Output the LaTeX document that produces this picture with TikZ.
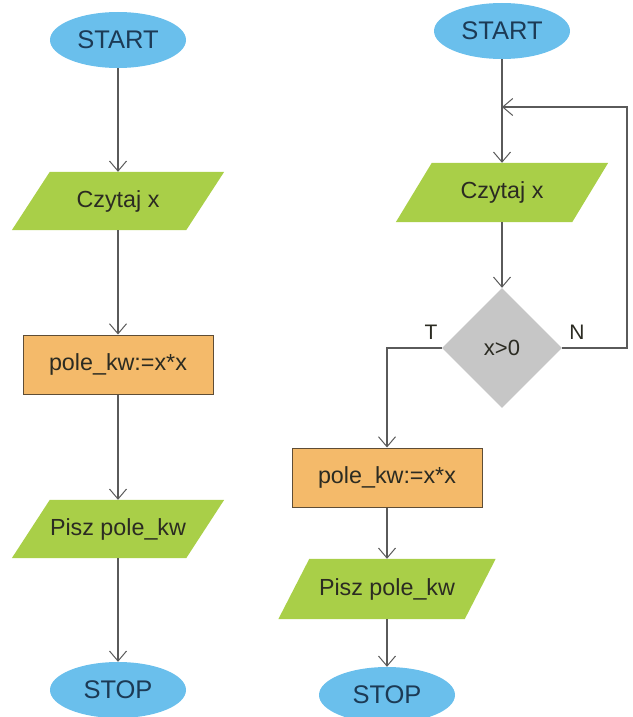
\documentclass[tikz,border=0pt]{standalone}
\usepackage{fontspec}
\setmainfont{Liberation Sans}
\usetikzlibrary{arrows.meta,shapes.geometric}
\pgfdeclarelayer{background}
\pgfsetlayers{background,main}

\definecolor{termblue}{HTML}{6ABFEC}
\definecolor{termtext}{HTML}{1C3A55}
\definecolor{iogreen}{HTML}{A9CF48}
\definecolor{procorange}{HTML}{F4BA6A}
\definecolor{procedge}{HTML}{5E4D36}
\definecolor{decgray}{HTML}{C6C6C6}
\definecolor{linegray}{HTML}{5A5A5A}
\definecolor{txtdark}{HTML}{2B2B22}

\tikzset{
  terminal/.style={ellipse, fill=termblue, inner sep=0pt, minimum width=136pt,
    minimum height=56pt, text=termtext, font=\fontsize{25.5}{30}\selectfont},
  iobox/.style={rectangle, inner sep=0pt, minimum height=58pt,
    text=txtdark, font=\fontsize{23.3}{27}\selectfont},
  procbox/.style={rectangle, fill=procorange, draw=procedge, line width=1pt,
    inner sep=0pt, minimum width=190pt, minimum height=59pt,
    text=txtdark, font=\fontsize{23.3}{27}\selectfont},
  decision/.style={diamond, fill=decgray, inner sep=0pt, minimum width=120pt,
    minimum height=120pt, text=txtdark, font=\fontsize{22}{26}\selectfont},
  branchlabel/.style={text=txtdark, font=\fontsize{21}{25}\selectfont},
  flow/.style={draw=linegray, line width=1.1pt,
    -{Straight Barb[length=10pt,width=17pt,line width=1pt]}},
}

% fills a right-leaning parallelogram behind an io node
\newcommand{\pgramfill}[2]{%
  \begin{pgfonlayer}{background}
    \fill[iogreen] ([xshift=#2/2]#1.north west) -- ([xshift=#2/2]#1.north east)
      -- ([xshift=-#2/2]#1.south east) -- ([xshift=-#2/2]#1.south west) -- cycle;
  \end{pgfonlayer}}

\begin{document}
\begin{tikzpicture}[x=1pt, y=-1pt]
  \useasboundingbox (0,0) rectangle (632,717);

  % ---- linear algorithm ----
  \node[terminal] (s1) at (118,40) {START};
  \node[iobox, minimum width=174pt] (c1) at (118,201) {Czytaj x};
  \pgramfill{c1}{38pt}
  \node[procbox] (p1) at (118,364.5) {pole\_kw:=x*x};
  \node[iobox, minimum width=174pt] (w1) at (118,529) {Pisz pole\_kw};
  \pgramfill{w1}{38pt}
  \node[terminal] (e1) at (118,690) {STOP};

  \draw[flow] (s1) -- (c1);
  \draw[flow] (c1) -- (p1);
  \draw[flow] (p1) -- (w1);
  \draw[flow] (w1) -- (e1);

  % ---- algorithm with a loop ----
  \node[terminal] (s2) at (502,31) {START};
  \node[iobox, minimum width=176pt, minimum height=59pt] (c2) at (502,192.5) {Czytaj x};
  \pgramfill{c2}{36pt}
  \node[decision] (d) at (502,348) {x>0};
  \node[procbox] (p2) at (387,477.5) {pole\_kw:=x*x};
  \node[iobox, minimum width=186pt, minimum height=60pt] (w2) at (387,589) {Pisz pole\_kw};
  \pgramfill{w2}{31pt}
  \node[terminal] (e2) at (387,695) {STOP};

  \coordinate (join) at (502,107);
  \coordinate (nturn) at (627,348);
  \coordinate (ntop) at (627,107);
  \coordinate (tturn) at (387,348);

  \draw[flow] (s2) -- (c2);
  \draw[flow] (c2) -- (d);
  \draw[flow] (d.east) -- (nturn) -- (ntop) -- (join);
  \draw[flow] (d.west) -- (tturn) -- (p2);
  \draw[flow] (p2) -- (w2);
  \draw[flow] (w2) -- (e2);

  \node[branchlabel] (tlab) at (431,332) {T};
  \node[branchlabel] (nlab) at (577,332) {N};
\end{tikzpicture}
\end{document}
